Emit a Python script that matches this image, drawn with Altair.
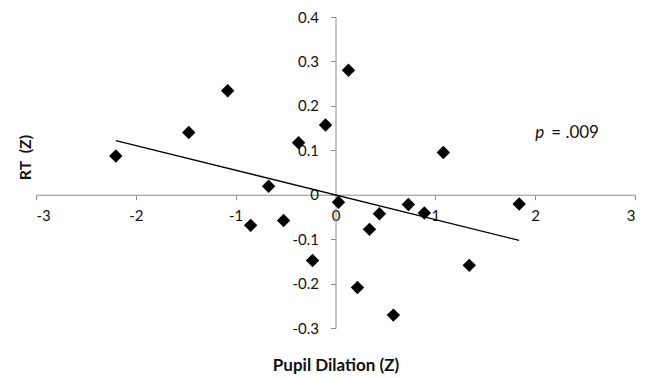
import altair as alt
import pandas as pd

# Scatter data
pupil_z = [-2.20, -1.47, -1.08, -0.67, -0.37, -0.10, 0.13, 1.08, -0.85, -0.52,
           -0.23, 0.03, 0.44, 0.34, 0.73, 0.89, 1.84, 1.34, 0.22, 0.58]
rt_z = [0.087, 0.140, 0.234, 0.019, 0.117, 0.157, 0.280, 0.095, -0.069, -0.058,
        -0.148, -0.017, -0.043, -0.078, -0.022, -0.041, -0.021, -0.159, -0.209, -0.271]

# Linear trend line endpoints
trend_x = [-2.20, 1.84]
trend_y = [0.122, -0.103]

# Annotation
annot_x = [2.0]
annot_y = [0.139]

x_ticks = [-3, -2, -1, 0, 1, 2, 3]
y_ticks = [-0.3, -0.2, -0.1, 0, 0.1, 0.2, 0.3, 0.4]

FONT = "Lato"
AXIS_COLOR = "#8c8c8c"

pts = pd.DataFrame({"x": pupil_z, "y": rt_z})
trend = pd.DataFrame({"x": trend_x, "y": trend_y})
ann = pd.DataFrame({"x": annot_x, "y": annot_y})

W, H = 599, 311
y_zero_px = H * (0.4 / 0.7)  # pixel from top of y = 0
x_zero_px = W * 0.5          # pixel from left of x = 0

xaxis = alt.Axis(
    values=x_ticks, labelExpr="'' + datum.value", grid=False,
    orient="bottom", offset=y_zero_px - H,
    domainColor=AXIS_COLOR, tickColor=AXIS_COLOR, tickSize=5,
    labelColor="#111111", labelFont=FONT, labelFontSize=15, labelPadding=9,
    title="Pupil Dilation (Z)", titleFont=FONT, titleFontSize=17, titleFontWeight="bold",
    titleColor="#111111", titleX=x_zero_px, titleY=171, titleAlign="center",
    titleBaseline="middle",
)
yaxis = alt.Axis(
    values=y_ticks, labelExpr="'' + datum.value", grid=False,
    orient="left", offset=-x_zero_px,
    domainColor=AXIS_COLOR, tickColor=AXIS_COLOR, tickSize=5,
    labelColor="#111111", labelFont=FONT, labelFontSize=15, labelPadding=12,
    title="RT\u00a0\u00a0(Z)", titleFont=FONT, titleFontSize=16, titleFontWeight="bold",
    titleColor="#111111", titleX=-11 - x_zero_px, titleY=140, titleAngle=-90,
    titleAlign="center", titleBaseline="middle",
)

xenc = alt.X("x:Q", scale=alt.Scale(domain=[-3, 3], nice=False, zero=False), axis=xaxis)
yenc = alt.Y("y:Q", scale=alt.Scale(domain=[-0.3, 0.4], nice=False, zero=False), axis=yaxis)

points = alt.Chart(pts).mark_point(
    shape="diamond", filled=True, color="black", size=180, opacity=1
).encode(x=xenc, y=yenc)

line = alt.Chart(trend).mark_line(color="black", strokeWidth=1.3).encode(x=xenc, y=yenc)

p_text = alt.Chart(ann).mark_text(
    text="p", fontStyle="italic", font=FONT, fontSize=17, align="left",
    baseline="middle", color="#111111"
).encode(x=xenc, y=yenc)

rest_text = alt.Chart(ann).mark_text(
    text="= .009", font=FONT, fontSize=17, align="left", baseline="middle",
    color="#111111", dx=16
).encode(x=xenc, y=yenc)

chart = alt.layer(line, points, p_text, rest_text).properties(
    width=W, height=H,
    autosize=alt.AutoSizeParams(type="none"),
    padding={"left": 28, "top": 9, "right": 6, "bottom": 50},
    background="white",
).configure_view(stroke="transparent")

chart.save("out.html", embed_options={"renderer": "svg", "actions": False})
